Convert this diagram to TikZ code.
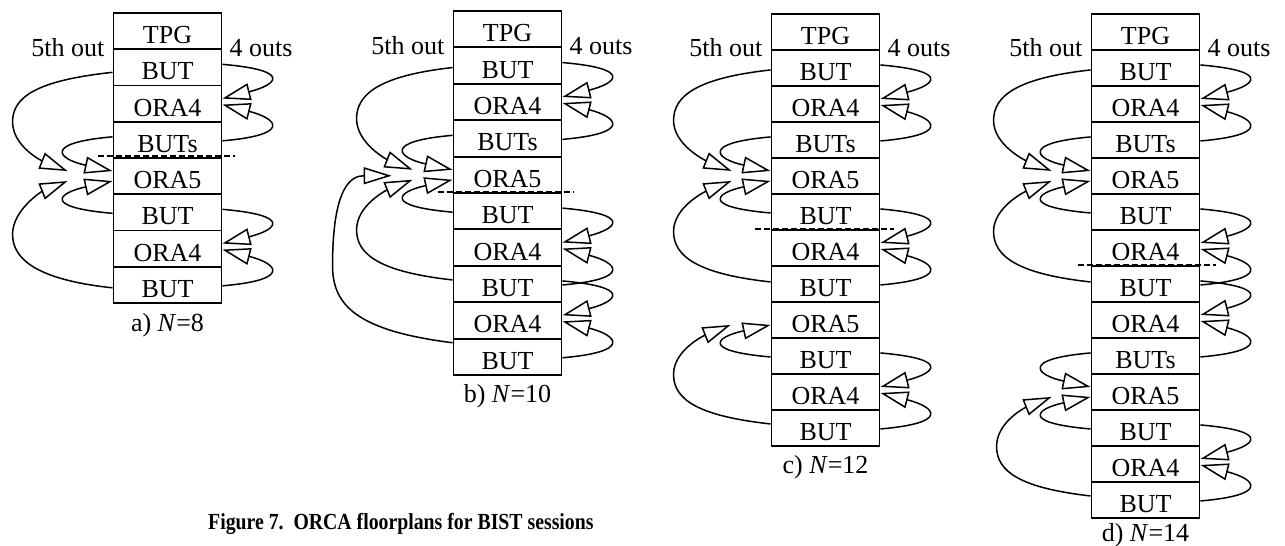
\documentclass[tikz,border=0pt]{standalone}
\usepackage{fontspec}
\setmainfont{Liberation Serif}
\newfontfamily\capfamily[FakeStretch=0.86]{Liberation Serif}
\usetikzlibrary{arrows.meta,calc,backgrounds}

\newcommand\rowfont{\fontsize{26}{30}\selectfont}
\newcommand\capfont{\capfamily\fontsize{23}{26}\selectfont\bfseries}

% a column of cells: #1 prefix, #2 centre x, #3 top y, #4 row height, #5 labels
\newcommand\floorplan[5]{%
  \foreach \lab [count=\k from 0] in {#5} {%
    \node[cell, minimum height=#4pt] (#1\k) at (#2,{#3+\k*#4}) {\lab};}}

% right-hand loops into an ORA4 cell: from the cell above / below
\newcommand\rdown[2]{\draw[arr] ($(#1.east)+(0,-3)$) .. controls +(70,6) and +(55,-14) .. ($(#2.east)+(0,-5)$);}
\newcommand\rup[2]{\draw[arr] ($(#1.east)+(0,1)$) .. controls +(70,-6) and +(55,14) .. ($(#2.east)+(0,1)$);}
% left-hand short loops into an ORA5 cell
\newcommand\ldown[2]{\draw[arr] ($(#1.west)+(0,-3)$) .. controls +(-70,6) and +(-55,-12) .. ($(#2.west)+(0,-5)$);}
\newcommand\lup[2]{\draw[arr] ($(#1.west)+(0,1)$) .. controls +(-70,-6) and +(-55,12) .. ($(#2.west)+(0,5)$);}
% left-hand long loops: #3 start offset, #4 tip distance from the cell, #5 reach
\newcommand\outerdn[5]{%
  \coordinate (s) at ($(#1.west)+(0,#3)$);
  \coordinate (t) at ($(#2.west)+(-#4,-5)$);
  \coordinate (m) at ($(s)!0.5!(t)+({#4/2-#5},0)$);
  \draw[arr] (s) .. controls +({-0.75*#5},8) and +(0,-25) .. (m) .. controls +(0,25) and +(-25,-10) .. (t);}
\newcommand\outerup[5]{%
  \coordinate (s) at ($(#1.west)+(0,#3)$);
  \coordinate (t) at ($(#2.west)+(-#4,5)$);
  \coordinate (m) at ($(s)!0.5!(t)+({#4/2-#5},0)$);
  \draw[arr] (s) .. controls +({-0.75*#5},-8) and +(0,25) .. (m) .. controls +(0,-25) and +(-25,10) .. (t);}

\begin{document}
\begin{tikzpicture}[x=1pt,y=-1pt,
  cell/.style={draw, line width=1.9pt, minimum width=108pt, inner sep=0pt,
    anchor=north, font=\rowfont, text height=25pt, text depth=0pt},
  arr/.style={line width=1.5pt, line join=round,
    -{Triangle[length=28pt,width=17pt,fill=white]}},
  cut/.style={line width=1.2pt, dash pattern=on 6pt off 3pt},
  lab/.style={font=\rowfont, inner sep=0pt}]
\useasboundingbox (0,0) rectangle (1285,546);

% floorplans
\floorplan{a}{167.5}{12}{36.25}{TPG,BUT,ORA4,BUTs,ORA5,BUT,ORA4,BUT}
\floorplan{b}{507.5}{10}{36.4}{TPG,BUT,ORA4,BUTs,ORA5,BUT,ORA4,BUT,ORA4,BUT}
\floorplan{c}{825.5}{13}{36.0}{TPG,BUT,ORA4,BUTs,ORA5,BUT,ORA4,BUT,ORA5,BUT,ORA4,BUT}
\floorplan{d}{1145.5}{13}{36.0}{TPG,BUT,ORA4,BUTs,ORA5,BUT,ORA4,BUT,ORA4,BUTs,ORA5,BUT,ORA4,BUT}

% side labels and sub-captions
\foreach \p in {a,b,c,d} {
  \node[lab, anchor=base east] (\p5th) at ($(\p0.south west)+(-8,6)$) {5th out};
  \node[lab, anchor=base west] (\p4o) at ($(\p0.south east)+(7,6)$) {4 outs};
}
\node[lab, anchor=base] (acap) at ($(a7.south)+(0,28)$) {a) \textit{N}=8};
\node[lab, anchor=base] (bcap) at ($(b9.south)+(0,27)$) {b) \textit{N}=10};
\node[lab, anchor=base] (ccap) at ($(c11.south)+(0,27)$) {c) \textit{N}=12};
\node[lab, anchor=base] (dcap) at ($(d13.south)+(0,23)$) {d) \textit{N}=14};

\node[anchor=base west, inner sep=0pt, font=\capfont] (fig) at (208,529)
  {Figure 7.\ \ ORCA floorplans for BIST sessions};

\begin{scope}[on background layer]
\fill[white] (0,0) rectangle (1285,546);

% session boundaries
\draw[cut] ($(a4.north west)+(-15,-1)$) -- ($(a4.north east)+(13,-1)$);
\draw[cut] ($(b5.north west)+(-15,0)$) -- ($(b5.north east)+(12,0)$);
\draw[cut] ($(c6.north west)+(-16,0)$) -- ($(c6.north east)+(14,0)$);
\draw[cut] ($(d7.north west)+(-13,0)$) -- ($(d7.north east)+(16,0)$);

% a) N=8
\rdown{a1}{a2} \rup{a3}{a2}
\rdown{a5}{a6} \rup{a7}{a6}
\ldown{a3}{a4} \lup{a5}{a4}
\outerdn{a1}{a4}{5}{45}{100}
\outerup{a7}{a4}{3}{45}{100}

% b) N=10
\rdown{b1}{b2} \rup{b3}{b2}
\rdown{b5}{b6} \rup{b7}{b6}
\rdown{b7}{b8} \rup{b9}{b8}
\ldown{b3}{b4} \lup{b5}{b4}
\outerdn{b1}{b4}{2}{40}{96}
\outerup{b7}{b4}{-4}{40}{96}
\coordinate (s) at ($(b9.west)+(0,-14)$);
\coordinate (t) at ($(b4.west)+(-61,1)$);
\coordinate (m) at ($(b4.west)!0.5!(b9.west)+(-120,0)$);
\draw[arr] (s) .. controls +(-95,-12) and +(0,40) .. (m)
  .. controls +(0,-80) and +(-40,0) .. (t);

% c) N=12
\rdown{c1}{c2} \rup{c3}{c2}
\rdown{c5}{c6} \rup{c7}{c6}
\rdown{c9}{c10} \rup{c11}{c10}
\ldown{c3}{c4} \lup{c5}{c4}
\outerdn{c1}{c4}{2}{39}{97}
\outerup{c7}{c4}{-2}{39}{97}
\lup{c9}{c8}
\outerup{c11}{c8}{-4}{40}{97}

% d) N=14
\rdown{d1}{d2} \rup{d3}{d2}
\rdown{d5}{d6} \rup{d7}{d6}
\rdown{d7}{d8} \rup{d9}{d8}
\rdown{d11}{d12} \rup{d13}{d12}
\ldown{d3}{d4} \lup{d5}{d4}
\outerdn{d1}{d4}{2}{39}{97}
\outerup{d7}{d4}{-2}{39}{97}
\ldown{d9}{d10} \lup{d11}{d10}
\outerup{d13}{d10}{-4}{39}{94}
\end{scope}
\end{tikzpicture}
\end{document}
